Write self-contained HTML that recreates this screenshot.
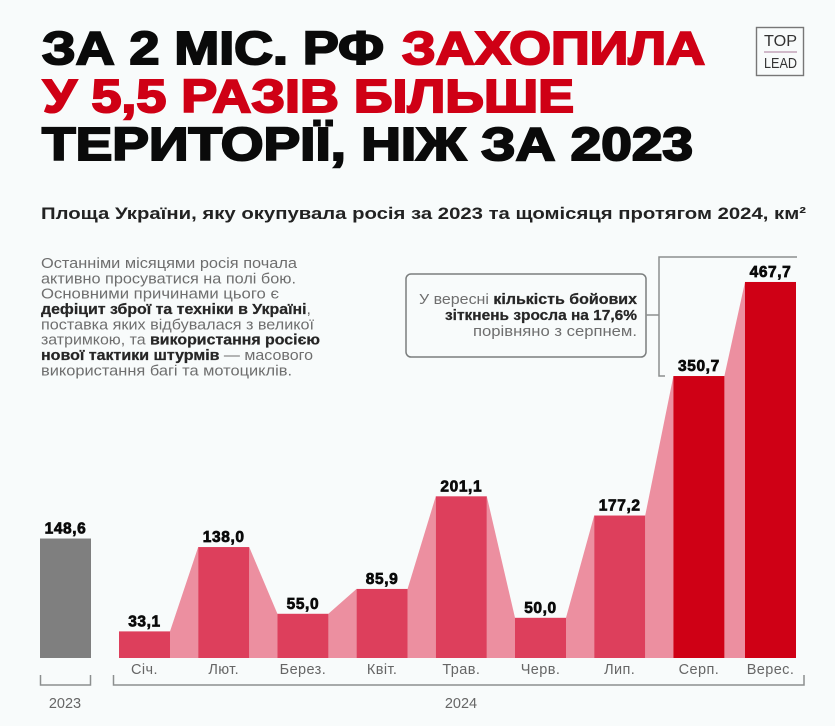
<!DOCTYPE html>
<html lang="uk">
<head>
<meta charset="utf-8">
<title>Площа України, окупована росією</title>
<style>
html,body{margin:0;padding:0;background:#f8fbfb;}
svg{display:block;font-family:"Liberation Sans","DejaVu Sans",sans-serif;}
.title{font-size:46px;font-weight:700;stroke-width:2px;paint-order:stroke;}
.blk{fill:#0a0a0a;stroke:#0a0a0a;}
.red{fill:#cf0015;stroke:#cf0015;}
.body{font-size:14.8px;fill:#6e6e6e;}
.strong{font-weight:700;fill:#262626;stroke:#262626;stroke-width:.25px;}
.cat{font-size:14.5px;fill:#666;letter-spacing:.4px;text-anchor:middle;}
.val{font-size:15.5px;font-weight:700;fill:#0a0a0a;stroke:#0a0a0a;stroke-width:.7px;letter-spacing:.6px;text-anchor:middle;}
.line{fill:none;stroke:#8c8f8f;stroke-width:1.5;}
</style>
</head>
<body>
<svg id="chart" width="835" height="726" viewBox="0 0 835 726">
  <rect x="0" y="0" width="835" height="726" fill="#f8fbfb"/>

  <g>
    <text class="title blk" x="42" y="64" textLength="342" lengthAdjust="spacingAndGlyphs">ЗА 2 МІС. РФ</text>
    <text class="title red" x="402" y="64" textLength="303" lengthAdjust="spacingAndGlyphs">ЗАХОПИЛА</text>
    <text class="title red" x="43" y="112" textLength="531" lengthAdjust="spacingAndGlyphs">У 5,5 РАЗІВ БІЛЬШЕ</text>
    <text class="title blk" x="42" y="160" textLength="651" lengthAdjust="spacingAndGlyphs">ТЕРИТОРІЇ, НІЖ ЗА 2023</text>
  </g>

  <g>
    <rect x="756.5" y="27.5" width="47" height="48" fill="none" stroke="#777" stroke-width="1.4"/>
    <text x="764" y="46" font-size="16" fill="#333" textLength="33" lengthAdjust="spacingAndGlyphs">TOP</text>
    <line x1="764" y1="52" x2="797" y2="52" stroke="#a77a9a" stroke-width="1"/>
    <text x="764" y="68" font-size="15" fill="#333" textLength="33" lengthAdjust="spacingAndGlyphs">LEAD</text>
  </g>

  <text x="41" y="219" font-size="16.5" font-weight="700" fill="#222" textLength="765" lengthAdjust="spacingAndGlyphs">Площа України, яку окупувала росія за 2023 та щомісяця протягом 2024, км²</text>

  <g>
    <text class="body" x="41" y="268" textLength="256" lengthAdjust="spacingAndGlyphs">Останніми місяцями росія почала</text>
    <text class="body" x="41" y="283.3" textLength="255" lengthAdjust="spacingAndGlyphs">активно просуватися на полі бою.</text>
    <text class="body" x="41" y="298.6" textLength="238" lengthAdjust="spacingAndGlyphs">Основними причинами цього є</text>
    <text class="body" x="41" y="314" textLength="270" lengthAdjust="spacingAndGlyphs"><tspan class="strong">дефіцит зброї та техніки в Україні</tspan>,</text>
    <text class="body" x="41" y="329.3" textLength="273" lengthAdjust="spacingAndGlyphs">поставка яких відбувалася з великої</text>
    <text class="body" x="41" y="344.6" textLength="279" lengthAdjust="spacingAndGlyphs">затримкою, та <tspan class="strong">використання росією</tspan></text>
    <text class="body" x="41" y="360" textLength="272" lengthAdjust="spacingAndGlyphs"><tspan class="strong">нової тактики штурмів</tspan> — масового</text>
    <text class="body" x="41" y="375.3" textLength="251" lengthAdjust="spacingAndGlyphs">використання багі та мотоциклів.</text>
  </g>

  <g>
    <rect x="406" y="274" width="240" height="83" rx="5" fill="none" stroke="#7b7e7e" stroke-width="1.5"/>
    <text class="body" x="419" y="304" textLength="218" lengthAdjust="spacingAndGlyphs">У вересні <tspan class="strong">кількість бойових</tspan></text>
    <text class="body" x="445" y="320" textLength="192" lengthAdjust="spacingAndGlyphs"><tspan class="strong">зіткнень зросла на 17,6%</tspan></text>
    <text class="body" x="473" y="336" textLength="164" lengthAdjust="spacingAndGlyphs">порівняно з серпнем.</text>
    <path class="line" d="M646 315H659M665 376H659V257H797"/>
  </g>

  <g id="marks"></g>

  <g>
    <path class="line" d="M40.5 675V685H90.5V675"/>
    <path class="line" d="M113.5 675V685H804V675"/>
    <text x="65" y="708" text-anchor="middle" font-size="14.5" fill="#666">2023</text>
    <text x="461" y="708" text-anchor="middle" font-size="14.5" fill="#666">2024</text>
  </g>
</svg>

<script>
const baselineValue = [148.6];
const baselineLabel = ['148,6'];
const months = ['Січ.', 'Лют.', 'Берез.', 'Квіт.', 'Трав.', 'Черв.', 'Лип.', 'Серп.', 'Верес.'];
const monthValues = [33.1, 138.0, 55.0, 85.9, 201.1, 50.0, 177.2, 350.7, 467.7];
const monthLabels = ['33,1', '138,0', '55,0', '85,9', '201,1', '50,0', '177,2', '350,7', '467,7'];

const NS = 'http://www.w3.org/2000/svg';
const marks = document.getElementById('marks');
const axisBottom = 658;
const barWidth = 51;
const yScale = v => axisBottom - v * 0.804;
const xScale = i => (i === months.length - 1 ? 745 : 119 + i * 79.2);
const barFill = v => (v > 300 ? '#cf0015' : '#dd3f5c');

function make(tag, attrs, text) {
  const el = document.createElementNS(NS, tag);
  Object.keys(attrs).forEach(k => el.setAttribute(k, attrs[k]));
  if (text !== undefined) el.textContent = text;
  marks.appendChild(el);
  return el;
}

monthValues.slice(0, -1).forEach((v, i) => {
  const x1 = xScale(i) + barWidth;
  const x2 = xScale(i + 1);
  const next = monthValues[i + 1];
  const pts = [x1 + ',' + yScale(v), x2 + ',' + yScale(next), x2 + ',' + axisBottom, x1 + ',' + axisBottom];
  const link = make('polygon', { points: pts.join(' '), fill: '#ec8fa0' });
  
  
});

monthValues.forEach((v, i) => {
  const bar = make('rect', { x: xScale(i), y: yScale(v), width: barWidth, height: axisBottom - yScale(v), fill: barFill(v) });
  
  
  const val = make('text', { class: 'val', x: xScale(i) + barWidth / 2, y: yScale(v) - 5 }, monthLabels[i]);
  
  
  const cat = make('text', { class: 'cat', x: xScale(i) + barWidth / 2, y: 674 }, months[i]);
  
  
});

const bar2023 = make('rect', { x: 40, y: yScale(baselineValue[0]), width: barWidth, height: axisBottom - yScale(baselineValue[0]), fill: '#7f7f7f' });


const val2023 = make('text', { class: 'val', x: 65.5, y: yScale(baselineValue[0]) - 5 }, baselineLabel[0]);


</script>
</body>
</html>
